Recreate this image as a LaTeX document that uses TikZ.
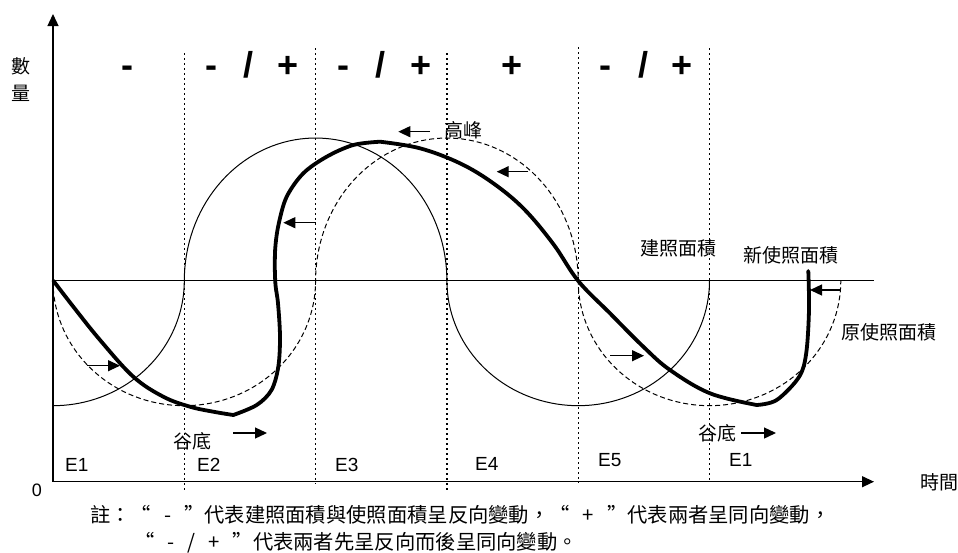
\documentclass[tikz,border=0pt]{standalone}
\usepackage{fontspec}
\setmainfont{Liberation Sans}
\newfontfamily\cjk{Noto Sans CJK TC}
\usetikzlibrary{arrows.meta}
\newcommand{\qsp}{\hspace{13pt}}
\begin{document}
\begin{tikzpicture}[x=1pt,y=-1pt,
  thinline/.style={line width=1pt},
  dashline/.style={line width=1pt, dash pattern=on 5pt off 3pt},
  dotline/.style={line width=1.3pt, dash pattern=on 1.5pt off 3.5pt},
  thickline/.style={line width=3.8pt, line join=round, line cap=round},
  axis/.style={line width=1.3pt, -{Triangle[length=12pt,width=11pt]}},
  smallarrow/.style={line width=1.3pt, -{Triangle[length=12pt,width=11pt]}},
  cjklabel/.style={font=\cjk\fontsize{19}{19}\selectfont, inner sep=0pt},
  notetext/.style={font=\cjk\fontsize{20.3}{20.3}\selectfont, inner sep=0pt, anchor=west},
  elabel/.style={font=\fontsize{19}{19}\selectfont, inner sep=0pt, anchor=base west},
  sign/.style={font=\bfseries\fontsize{36}{36}\selectfont, inner sep=0pt, anchor=base},
]
\useasboundingbox (0,0) rectangle (958,552);

% dotted period boundaries
\draw[dotline] (184.3,53) -- (184.3,490);
\draw[dotline] (315.6,48) -- (315.6,484);
\draw[dotline] (446.9,53) -- (446.9,490);
\draw[dotline] (578.2,47) -- (578.2,483);
\draw[dotline] (709.5,48) -- (709.5,483);

% axes
\coordinate (O) at (53,481.7);
\coordinate (ytop) at (53,14);
\coordinate (xend) at (874,481.7);
\draw[axis] (O) -- (ytop);
\draw[axis] (O) -- (xend);

% mid line
\coordinate (mL) at (53,280.7);
\coordinate (mR) at (874,280.7);
\draw[thinline] (mL) -- (mR);

% building permit (solid)
\draw[thinline] plot[domain=90:0,samples=40] ({53+131.3*cos(\x)},{280.7+125*sin(\x)})
  -- plot[domain=180:360,samples=70] ({315.6+131.3*cos(\x)},{280.7+142.7*sin(\x)})
  -- plot[domain=180:0,samples=70] ({578.2+131.3*cos(\x)},{280.7+125*sin(\x)});

% original use permit (dashed)
\draw[dashline] plot[domain=180:0,samples=70] ({184.3+131.3*cos(\x)},{280.7+125*sin(\x)})
  -- plot[domain=180:360,samples=70] ({446.9+131.3*cos(\x)},{280.7+142.7*sin(\x)})
  -- plot[domain=180:0,samples=70] ({709.5+131.3*cos(\x)},{280.7+125*sin(\x)});

% new use permit (thick)
\draw[thickline] plot[smooth,tension=0.6] coordinates {(53.3,280.7) (73.3,306.7) (100,340) (133.3,376.7) (163.3,396.7) (190,406.7) (213.3,411.7) (233.3,415)}
  -- plot[smooth,tension=0.55] coordinates {(233.3,415) (256.7,405) (271.5,390) (278.3,366.7) (280,336.7) (278,303.3) (275.5,285) (274.8,265) (275.5,245) (278.8,223.3) (286.7,196.7) (303.3,173.3) (326.7,156.7) (353.3,145) (380,141.7)}
  -- plot[smooth,tension=0.6] coordinates {(380,141.7) (420,148.3) (460,163.3) (493.3,183.3) (524,209) (553.3,244) (578.3,281) (610,313.3) (643.3,346.7) (670,370) (710,393.3) (756.7,405)}
  -- plot[smooth,tension=0.55] coordinates {(756.7,405) (776.7,400) (799,377) (806.2,353.3) (809,310) (808.3,271)};

% shift arrows
\coordinate (a1s) at (86.7,365.7);  \coordinate (a1e) at (120,365.7);
\coordinate (a2s) at (233,433);     \coordinate (a2e) at (267,433);
\coordinate (a3s) at (315.6,222.7); \coordinate (a3e) at (283.3,222.7);
\coordinate (a4s) at (430,131.7);   \coordinate (a4e) at (398.3,131.7);
\coordinate (a5s) at (528.3,171.7); \coordinate (a5e) at (496.7,171.7);
\coordinate (a6s) at (610,355.7);   \coordinate (a6e) at (644,355.7);
\coordinate (a7s) at (741,433);     \coordinate (a7e) at (776,433);
\coordinate (a8s) at (840,290);     \coordinate (a8e) at (810,290);
\draw[smallarrow] (a1s) -- (a1e);
\draw[smallarrow] (a2s) -- (a2e);
\draw[smallarrow] (a3s) -- (a3e);
\draw[smallarrow] (a4s) -- (a4e);
\draw[smallarrow] (a5s) -- (a5e);
\draw[smallarrow] (a6s) -- (a6e);
\draw[smallarrow] (a7s) -- (a7e);
\draw[smallarrow] (a8s) -- (a8e);

% top signs
\node[sign] (s1) at (127,77) {-};
\node[sign] (s2a) at (211,77) {-};
\node[sign] (s2b) at (248,77) {/};
\node[sign] (s2c) at (288,77) {+};
\node[sign] (s3a) at (343,77) {-};
\node[sign] (s3b) at (380,77) {/};
\node[sign] (s3c) at (421,77) {+};
\node[sign] (s4) at (512,77) {+};
\node[sign] (s5a) at (605,77) {-};
\node[sign] (s5b) at (643,77) {/};
\node[sign] (s5c) at (682,77) {+};

% axis labels
\node[cjklabel] (shu) at (21,66.5) {數};
\node[cjklabel] (liang) at (21,93) {量};
\node[font=\fontsize{18}{18}\selectfont, inner sep=0pt] (zero) at (37,490) {0};
\node[cjklabel] (time) at (939.5,482) {時間};

% curve labels
\node[cjklabel] (lb1) at (678.5,248) {建照面積};
\node[cjklabel] (lb2) at (790.5,255) {新使照面積};
\node[cjklabel] (lb3) at (888.5,332) {原使照面積};
\node[cjklabel] (peak) at (463.5,130) {高峰};
\node[cjklabel] (trough1) at (192.5,441) {谷底};
\node[cjklabel] (trough2) at (717.5,433.5) {谷底};

% period labels
\node[elabel] (e1) at (65,471.7) {E1};
\node[elabel] (e2) at (197,471.7) {E2};
\node[elabel] (e3) at (335,471.7) {E3};
\node[elabel] (e4) at (475,470.7) {E4};
\node[elabel] (e5) at (598,466.7) {E5};
\node[elabel] (e1b) at (729,466.7) {E1};

% note
\node[notetext] (note1) at (90,515) {註：“\qsp-\qsp”代表建照面積與使照面積呈反向變動，“\qsp+\qsp”代表兩者呈同向變動，};
\node[notetext] (note2) at (134,543) {“\qsp-\qsp/\qsp+\qsp”代表兩者先呈反向而後呈同向變動。};
\end{tikzpicture}
\end{document}
